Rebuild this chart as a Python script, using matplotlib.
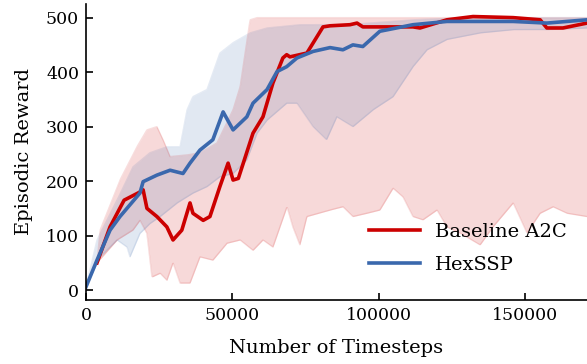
import numpy as np
import matplotlib
matplotlib.use("Agg")
from matplotlib import pyplot as plt

plt.rcParams['font.family'] = ['DejaVu Serif']

# Baseline A2C: mean curve
a2c_x = [3750, 8200, 13000, 18400, 19500, 20800, 24200, 27600, 29700, 32700,
         35500, 36500, 40000, 42300, 45700, 48500, 50200, 52000, 57000, 60400,
         63800, 67200, 68500, 69600, 75400, 80900, 83300, 90100, 92500, 94500,
         111600, 114000, 123200, 132100, 145800, 155000, 157300, 162800, 171000]
a2c_y = [50, 116, 165, 180, 184, 150, 135, 116, 92, 110,
         160, 141, 128, 135, 190, 233, 202, 205, 288, 318,
         380, 426, 432, 428, 435, 483, 485, 487, 490, 483,
         483, 481, 496, 502, 500, 496, 481, 481, 490]

# Baseline A2C: band
a2c_up_x = [3750, 4800, 11600, 17400, 20800, 24200, 26300, 28700, 34500, 38900,
            44700, 50200, 52600, 56000, 58400, 171000]
a2c_up_y = [50, 110, 202, 263, 294, 300, 276, 245, 248, 252,
            270, 331, 373, 496, 500, 500]
a2c_lo_x = [3750, 10600, 16000, 18400, 20800, 22500, 25300, 27600, 29700, 32100,
            35500, 38900, 43300, 48100, 52600, 57000, 60400, 63800, 68600, 70600,
            73000, 75400, 83300, 87700, 91100, 95900, 100300, 104800, 108200, 111600,
            115000, 119800, 123200, 127600, 134500, 138900, 145800, 150500, 155000,
            159400, 164200, 171000]
a2c_lo_y = [50, 92, 110, 128, 104, 24, 31, 18, 50, 13,
            13, 61, 55, 86, 92, 73, 92, 79, 153, 116,
            83, 135, 147, 153, 135, 141, 147, 187, 171, 135,
            129, 147, 116, 105, 83, 116, 160, 105, 141,
            153, 141, 135]

# HexSSP: mean curve
hex_x = [0, 3750, 8200, 11600, 18400, 19500, 24200, 28700, 33100, 35500,
         38900, 43300, 46800, 50200, 54900, 57000, 61800, 65200, 68500, 72000,
         77500, 83300, 87700, 91100, 94500, 100300, 111600, 123200, 134500, 145800,
         157300, 171000]
hex_y = [6, 55, 110, 135, 178, 199, 211, 220, 214, 233,
         257, 276, 327, 294, 318, 343, 368, 401, 410, 426,
         438, 445, 441, 450, 447, 475, 487, 493, 493, 493,
         490, 496]

# HexSSP: band
hex_up_x = [0, 3750, 10600, 16000, 21800, 27600, 32100, 34500, 36500, 41300,
            45700, 50200, 56000, 61800, 73000, 89000, 111600, 130000, 171000]
hex_up_y = [6, 92, 165, 226, 252, 263, 263, 331, 355, 368,
            435, 454, 472, 481, 487, 487, 496, 500, 500]
hex_lo_x = [0, 4800, 10600, 14000, 15000, 18400, 21800, 25300, 31100, 36500,
            41300, 45700, 50200, 54900, 58400, 61800, 68500, 72000, 77500, 82100,
            85600, 91100, 98000, 104800, 111600, 116400, 123200, 134500, 145800,
            157300, 171000]
hex_lo_y = [6, 61, 92, 79, 61, 104, 122, 135, 160, 178,
            190, 208, 214, 239, 288, 312, 343, 343, 300, 276,
            318, 300, 331, 355, 410, 441, 460, 472, 478,
            478, 481]

red = '#cc0000'
blue = '#3a68ad'

fig = plt.figure(figsize=(5.87, 3.64), dpi=100)
ax = fig.add_axes([0.1465, 0.176, 0.8535, 0.813])

grid = np.linspace(0, 171000, 800)

m = grid >= a2c_x[0]
gx = grid[m]
up = np.interp(gx, a2c_up_x, a2c_up_y)
lo = np.interp(gx, a2c_lo_x, a2c_lo_y)
ax.fill_between(gx, lo, up, color=red, alpha=0.15, lw=0)
ax.plot(gx, up, color=red, alpha=0.13, lw=1)
ax.plot(gx, lo, color=red, alpha=0.13, lw=1)

up = np.interp(grid, hex_up_x, hex_up_y)
lo = np.interp(grid, hex_lo_x, hex_lo_y)
ax.fill_between(grid, lo, up, color=blue, alpha=0.15, lw=0)
ax.plot(grid, up, color=blue, alpha=0.13, lw=1)
ax.plot(grid, lo, color=blue, alpha=0.13, lw=1)

ax.plot(a2c_x, a2c_y, color=red, lw=2.6, label='Baseline A2C')
ax.plot(hex_x, hex_y, color=blue, lw=2.6, label='HexSSP')

ax.set_xlim(0, 171000)
ax.set_ylim(-18, 525)
ax.set_xticks([0, 50000, 100000, 150000])
ax.set_yticks([0, 100, 200, 300, 400, 500])
ax.spines['top'].set_visible(False)
ax.spines['right'].set_visible(False)
ax.spines['left'].set_linewidth(1.2)
ax.spines['bottom'].set_linewidth(1.2)
ax.tick_params(direction='in', length=5, width=1.2, labelsize=12.5, pad=5)
ax.set_xlabel('Number of Timesteps', fontsize=14, labelpad=11)
ax.set_ylabel('Episodic Reward', fontsize=14, labelpad=9)

ax.legend(loc='lower right', bbox_to_anchor=(0.995, 0.03), frameon=False,
          fontsize=14, handlelength=2.6, handletextpad=0.8, labelspacing=0.75)

fig.savefig('out.png', dpi=100)
